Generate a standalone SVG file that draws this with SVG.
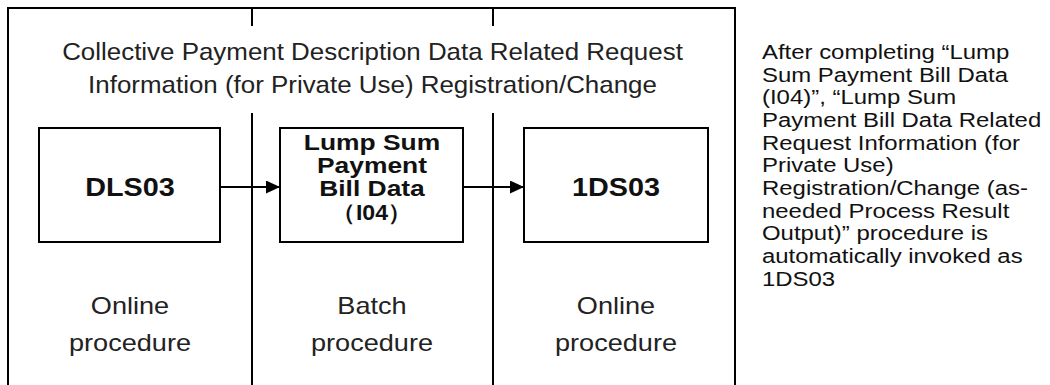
<svg xmlns="http://www.w3.org/2000/svg" width="1050" height="385" viewBox="0 0 1050 385">
  <defs>
    <marker id="arrow" viewBox="0 0 14 13" refX="14" refY="6.5" markerWidth="14" markerHeight="13" markerUnits="userSpaceOnUse" orient="auto">
      <path d="M0,0 L14,6.5 L0,13 z" fill="#000"/>
    </marker>
    <style>
      .frame { fill: none; stroke: #000; stroke-width: 2; }
      .box { fill: #fff; stroke: #000; stroke-width: 2; }
      .edge { fill: none; stroke: #000; stroke-width: 2; }
      text { font-family: "Liberation Sans", Arial, sans-serif; }
      .title { font-size: 24px; fill: #222; text-anchor: middle; }
      .name { font-size: 25px; font-weight: bold; fill: #111; text-anchor: middle; }
      .name2 { font-size: 22px; font-weight: bold; fill: #111; text-anchor: middle; }
      .lane { font-size: 24px; fill: #222; text-anchor: middle; }
      .note { font-size: 21px; fill: #111; }
    </style>
  </defs>

  <!-- outer frame, open at the bottom -->
  <path class="frame" d="M8,390 V8 H735 V390"/>

  <!-- lane dividers -->
  <g id="dividers">
    <line class="frame" x1="252" y1="8" x2="252" y2="26"/>
    <line class="frame" x1="493" y1="8" x2="493" y2="26"/>
    <line class="frame" x1="252" y1="113" x2="252" y2="390"/>
    <line class="frame" x1="493" y1="113" x2="493" y2="390"/>
  </g>

  <g id="title">
    <text class="title" transform="translate(372.5,60) scale(1.08,1)">Collective Payment Description Data Related Request</text>
    <text class="title" transform="translate(372.5,93) scale(1.08,1)">Information (for Private Use) Registration/Change</text>
  </g>

  <g id="connectors">
    <line class="edge" x1="220" y1="187" x2="280" y2="187" marker-end="url(#arrow)"/>
    <line class="edge" x1="463" y1="187" x2="524" y2="187" marker-end="url(#arrow)"/>
  </g>

  <g id="node-dls03">
    <rect class="box" x="39" y="128" width="181" height="114"/>
    <text class="name" transform="translate(130,196) scale(1.15,1)">DLS03</text>
  </g>

  <g id="node-i04">
    <rect class="box" x="280" y="128" width="183" height="114"/>
    <text class="name2" transform="translate(372,150) scale(1.2,1)">Lump Sum</text>
    <text class="name2" transform="translate(372,173) scale(1.2,1)">Payment</text>
    <text class="name2" transform="translate(372,196) scale(1.2,1)">Bill Data</text>
    <text class="name2" transform="translate(372,220) scale(1.05,1)">（I04）</text>
  </g>

  <g id="node-1ds03">
    <rect class="box" x="524" y="128" width="184" height="114"/>
    <text class="name" transform="translate(616,196) scale(1.15,1)">1DS03</text>
  </g>

  <g id="lane-labels">
    <text class="lane" transform="translate(130,314) scale(1.13,1)">Online</text>
    <text class="lane" transform="translate(130,351) scale(1.13,1)">procedure</text>
    <text class="lane" transform="translate(372,314) scale(1.13,1)">Batch</text>
    <text class="lane" transform="translate(372,351) scale(1.13,1)">procedure</text>
    <text class="lane" transform="translate(616,314) scale(1.13,1)">Online</text>
    <text class="lane" transform="translate(616,351) scale(1.13,1)">procedure</text>
  </g>

  <g id="note" transform="translate(762,0) scale(1.14,1)">
    <text class="note" x="0" y="59">After completing “Lump</text>
    <text class="note" x="0" y="82">Sum Payment Bill Data</text>
    <text class="note" x="0" y="104">(I04)”, “Lump Sum</text>
    <text class="note" x="0" y="127">Payment Bill Data Related</text>
    <text class="note" x="0" y="150">Request Information (for</text>
    <text class="note" x="0" y="172">Private Use)</text>
    <text class="note" x="0" y="195">Registration/Change (as-</text>
    <text class="note" x="0" y="218">needed Process Result</text>
    <text class="note" x="0" y="240">Output)” procedure is</text>
    <text class="note" x="0" y="263">automatically invoked as</text>
    <text class="note" x="0" y="286">1DS03</text>
  </g>
</svg>
